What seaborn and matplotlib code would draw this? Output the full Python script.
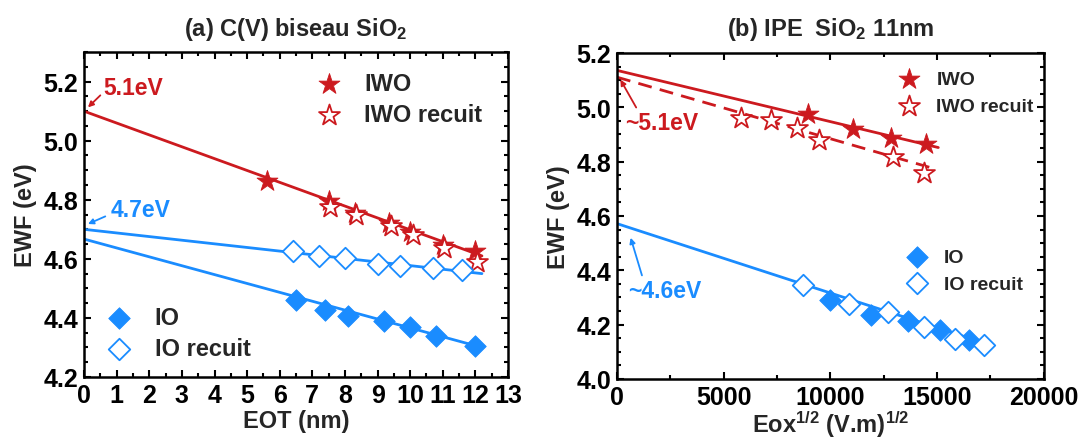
import matplotlib
matplotlib.use("Agg")
import matplotlib.pyplot as plt
from matplotlib.ticker import MultipleLocator
import seaborn as sns
import pandas as pd

# ---- panel (a): C(V) bevel, EWF vs EOT ----
a_iwo_x = [5.6, 7.5, 8.3, 9.35, 10.0, 11.0, 12.0]
a_iwo_y = [4.865, 4.795, 4.755, 4.72, 4.69, 4.648, 4.625]
a_iwor_x = [7.55, 8.35, 9.4, 10.1, 11.05, 12.05]
a_iwor_y = [4.775, 4.75, 4.71, 4.68, 4.638, 4.59]
a_io_x = [6.5, 7.4, 8.1, 9.2, 10.0, 10.8, 12.0]
a_io_y = [4.462, 4.427, 4.405, 4.39, 4.37, 4.34, 4.305]
a_ior_x = [6.4, 7.2, 8.0, 9.0, 9.7, 10.7, 11.6]
a_ior_y = [4.625, 4.608, 4.602, 4.583, 4.577, 4.57, 4.562]
# fitted lines (end points)
a_fit_x = [0, 12.2]
a_fit_iwo = [5.1, 4.61]
a_fit_ior = [4.7, 4.55]
a_fit_io = [4.667, 4.30]

# ---- panel (b): IPE SiO2 11nm, EWF vs sqrt(Eox) ----
b_iwo_x = [8970, 11060, 12840, 14490]
b_iwo_y = [4.977, 4.92, 4.888, 4.865]
b_iwor_x = [5800, 7220, 8420, 9490, 12950, 14380]
b_iwor_y = [4.962, 4.952, 4.924, 4.879, 4.818, 4.757]
b_io_x = [9980, 11920, 13620, 15140, 16520]
b_io_y = [4.289, 4.234, 4.213, 4.181, 4.145]
b_ior_x = [8710, 10870, 12710, 14380, 15840, 17220]
b_ior_y = [4.346, 4.276, 4.247, 4.191, 4.149, 4.124]
b_fit_iwo_x = [0, 15060]
b_fit_iwo_y = [5.136, 4.852]
b_fit_iwor_x = [0, 14790]
b_fit_iwor_y = [5.111, 4.776]
b_fit_io_x = [0, 17540]
b_fit_io_y = [4.572, 4.124]

RED = "#cc1a1f"
BLUE = "#1a8cff"

sns.set_theme(style="ticks")
plt.rcParams["font.family"] = ["Liberation Sans", "DejaVu Sans"]
plt.rcParams["font.weight"] = "bold"
plt.rcParams["axes.labelweight"] = "bold"
plt.rcParams["mathtext.fontset"] = "custom"
plt.rcParams["mathtext.rm"] = "Liberation Sans:bold"
plt.rcParams["mathtext.bf"] = "Liberation Sans:bold"
plt.rcParams["mathtext.it"] = "Liberation Sans:bold"
plt.rcParams["mathtext.default"] = "rm"

fig = plt.figure(figsize=(10.83, 4.39), dpi=100)
ax1 = fig.add_axes([0.0776, 0.139, 0.3915, 0.740])
ax2 = fig.add_axes([0.5697, 0.1344, 0.394, 0.7426])


def style_axes(ax):
    for sp in ax.spines.values():
        sp.set_linewidth(1.8)
        sp.set_color("black")
    ax.tick_params(which="both", direction="in", top=True, right=True,
                   width=1.5, colors="black", labelsize=18, pad=4)
    ax.tick_params(which="major", length=5)
    ax.tick_params(which="minor", length=3)
    for lab in ax.get_xticklabels() + ax.get_yticklabels():
        lab.set_fontweight("bold")


def scatter(ax, x, y, marker, color, s, hollow, label):
    df = pd.DataFrame({"x": x, "y": y})
    kw = dict(facecolor="white", linewidth=1.3) if hollow else dict(linewidth=0.6)
    sns.scatterplot(data=df, x="x", y="y", marker=marker, s=s, color=color,
                    edgecolor=color, ax=ax, label=label, zorder=3, legend=False, **kw)
    return ax.collections[-1]


# ---------- panel (a) ----------
sns.lineplot(x=a_fit_x, y=a_fit_iwo, color=RED, lw=2, ax=ax1)
sns.lineplot(x=a_fit_x, y=a_fit_ior, color=BLUE, lw=2, ax=ax1)
sns.lineplot(x=a_fit_x, y=a_fit_io, color=BLUE, lw=2, ax=ax1)
h_iwo = scatter(ax1, a_iwo_x, a_iwo_y, "*", RED, 250, False, "IWO")
h_iwor = scatter(ax1, a_iwor_x, a_iwor_y, "*", RED, 250, True, "IWO recuit")
h_io = scatter(ax1, a_io_x, a_io_y, "D", BLUE, 120, False, "IO")
h_ior = scatter(ax1, a_ior_x, a_ior_y, "D", BLUE, 120, True, "IO recuit")

ax1.set_xlim(0, 13)
ax1.set_ylim(4.2, 5.3)
ax1.xaxis.set_major_locator(MultipleLocator(1))
ax1.xaxis.set_minor_locator(MultipleLocator(0.5))
ax1.yaxis.set_major_locator(MultipleLocator(0.2))
ax1.yaxis.set_minor_locator(MultipleLocator(0.05))
ax1.set_xlabel("EOT (nm)", fontsize=17, fontweight="bold", labelpad=2)
ax1.set_ylabel("EWF (eV)", fontsize=17, fontweight="bold", labelpad=5)
ax1.set_title("(a) C(V) biseau SiO$_2$", fontsize=17, fontweight="bold", pad=12)
style_axes(ax1)

leg1 = ax1.legend([h_iwo, h_iwor], ["IWO", "IWO recuit"], loc="upper left",
                  bbox_to_anchor=(0.522, 0.975), frameon=False, fontsize=17,
                  handlelength=1.0, handletextpad=1.0, labelspacing=0.35, borderpad=0)
ax1.add_artist(leg1)
ax1.legend([h_io, h_ior], ["IO", "IO recuit"], loc="upper left",
           bbox_to_anchor=(0.027, 0.255), frameon=False, fontsize=17,
           handlelength=1.0, handletextpad=1.0, labelspacing=0.35, borderpad=0)

ax1.annotate("5.1eV", xy=(0.12, 5.113), xytext=(0.6, 5.18), color=RED,
             fontsize=16.5, fontweight="bold", va="center", ha="left",
             arrowprops=dict(arrowstyle="-|>", color=RED, lw=1.3,
                             mutation_scale=8, shrinkA=0, shrinkB=0,
                             relpos=(0, 0.3)))
ax1.annotate("4.7eV", xy=(0.12, 4.718), xytext=(0.83, 4.768), color=BLUE,
             fontsize=16.5, fontweight="bold", va="center", ha="left",
             arrowprops=dict(arrowstyle="-|>", color=BLUE, lw=1.3,
                             mutation_scale=8, shrinkA=2, shrinkB=0,
                             relpos=(0, 0.3)))

# ---------- panel (b) ----------
sns.lineplot(x=b_fit_iwo_x, y=b_fit_iwo_y, color=RED, lw=2, ax=ax2)
ax2.plot(b_fit_iwor_x, b_fit_iwor_y, color=RED, lw=2, ls=(0, (5, 3)))
sns.lineplot(x=b_fit_io_x, y=b_fit_io_y, color=BLUE, lw=2, ax=ax2)
g_iwo = scatter(ax2, b_iwo_x, b_iwo_y, "*", RED, 250, False, "IWO")
g_iwor = scatter(ax2, b_iwor_x, b_iwor_y, "*", RED, 250, True, "IWO recuit")
g_io = scatter(ax2, b_io_x, b_io_y, "D", BLUE, 120, False, "IO")
g_ior = scatter(ax2, b_ior_x, b_ior_y, "D", BLUE, 120, True, "IO recuit")

ax2.set_xlim(0, 20000)
ax2.set_ylim(4.0, 5.2)
ax2.xaxis.set_major_locator(MultipleLocator(5000))
ax2.xaxis.set_minor_locator(MultipleLocator(2500))
ax2.yaxis.set_major_locator(MultipleLocator(0.2))
ax2.yaxis.set_minor_locator(MultipleLocator(0.05))
ax2.set_xlabel("Eox$^{1/2}$ (V.m)$^{1/2}$", fontsize=17, fontweight="bold", labelpad=0)
ax2.set_ylabel("EWF (eV)", fontsize=17, fontweight="bold", labelpad=5)
ax2.set_title("(b) IPE  SiO$_2$ 11nm", fontsize=17, fontweight="bold", pad=13)
style_axes(ax2)

leg2 = ax2.legend([g_iwo, g_iwor], ["IWO", "IWO recuit"], loc="upper left",
                  bbox_to_anchor=(0.639, 0.975), frameon=False, fontsize=14,
                  handlelength=1.0, handletextpad=0.9, labelspacing=0.45, borderpad=0)
ax2.add_artist(leg2)
ax2.legend([g_io, g_ior], ["IO", "IO recuit"], loc="upper left",
           bbox_to_anchor=(0.657, 0.43), frameon=False, fontsize=14,
           handlelength=1.0, handletextpad=0.9, labelspacing=0.45, borderpad=0)

ax2.annotate("~5.1eV", xy=(160, 5.102), xytext=(370, 4.945), color=RED,
             fontsize=16.5, fontweight="bold", va="center", ha="left",
             arrowprops=dict(arrowstyle="-|>", color=RED, lw=1.3,
                             mutation_scale=8, shrinkA=0, shrinkB=0,
                             relpos=(0.18, 1.0)))
ax2.annotate("~4.6eV", xy=(640, 4.52), xytext=(530, 4.327), color=BLUE,
             fontsize=16.5, fontweight="bold", va="center", ha="left",
             arrowprops=dict(arrowstyle="-|>", color=BLUE, lw=1.3,
                             mutation_scale=8, shrinkA=0, shrinkB=0,
                             relpos=(0.2, 1.0)))

fig.savefig("out.png", dpi=100)
